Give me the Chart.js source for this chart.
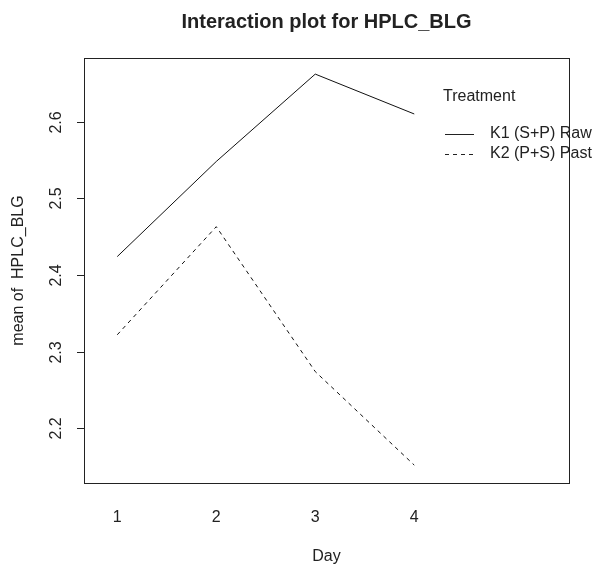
<!DOCTYPE html>
<html>
<head>
<meta charset="utf-8">
<script src="https://cdn.jsdelivr.net/npm/chart.js@4/dist/chart.umd.min.js"></script>
<style>
  html, body { margin: 0; padding: 0; background: #fff; }
  canvas { display: block; }
</style>
</head>
<body>
<canvas id="myChart" width="603" height="573"></canvas>
<script>
// interaction plot: mean HPLC_BLG by Day for each Treatment
const days = [1, 2, 3, 4];
const k1Raw = [2.424, 2.548, 2.662, 2.610];
const k2Past = [2.322, 2.463, 2.274, 2.152];
const seriesNames = ['K1 (S+P) Raw', 'K2 (P+S) Past'];
const yTicks = [2.2, 2.3, 2.4, 2.5, 2.6];
const xTicks = ['1', '2', '3', '4'];

const FONT = '"Liberation Sans", Arial, Helvetica, sans-serif';

function pts(vals) {
    return days.map((d, i) => ({ x: d, y: vals[i] }));
}

// draws the R-style frame, axes, titles and legend around the chart area
const rDecor = {
    id: 'rDecor',
    afterDraw(chart) {
        const ctx = chart.ctx;
        const a = chart.chartArea;
        const xs = chart.scales.x;
        const ys = chart.scales.y;
        ctx.save();
        ctx.fillStyle = '#222';
        ctx.strokeStyle = '#222';
        ctx.lineWidth = 1;

        // box
        ctx.strokeRect(Math.round(a.left) + 0.5, Math.round(a.top) + 0.5,
            Math.round(a.right - a.left), Math.round(a.bottom - a.top));

        // y ticks + rotated labels
        ctx.font = '16px ' + FONT;
        ctx.textAlign = 'center';
        ctx.textBaseline = 'middle';
        yTicks.forEach(v => {
            const y = Math.round(ys.getPixelForValue(v)) + 0.5;
            ctx.beginPath();
            ctx.moveTo(a.left - 7, y);
            ctx.lineTo(a.left, y);
            ctx.stroke();
            ctx.save();
            ctx.translate(57, y);
            ctx.rotate(-Math.PI / 2);
            ctx.fillText(v.toFixed(1), 0, 0);
            ctx.restore();
        });

        // x labels (no tick marks)
        xTicks.forEach((t, i) => {
            ctx.fillText(t, xs.getPixelForValue(days[i]), 518);
        });

        // axis titles
        ctx.fillText('Day', (a.left + a.right) / 2, 557);
        ctx.save();
        ctx.translate(19, (a.top + a.bottom) / 2);
        ctx.rotate(-Math.PI / 2);
        ctx.fillText('mean of  HPLC_BLG', 0, 0);
        ctx.restore();

        // main title
        ctx.font = 'bold 20px ' + FONT;
        ctx.fillText('Interaction plot for HPLC_BLG', (a.left + a.right) / 2, 22);

        // legend
        ctx.font = '16px ' + FONT;
        ctx.textAlign = 'left';
        ctx.fillText('Treatment', 443, 97);
        chart.data.datasets.forEach((ds, i) => {
            const y = 134 + i * 20;
            ctx.setLineDash(ds.borderDash || []);
            ctx.beginPath();
            ctx.moveTo(445, y + 0.5);
            ctx.lineTo(474, y + 0.5);
            ctx.stroke();
            ctx.setLineDash([]);
            ctx.fillText(ds.label, 490, y);
        });
        ctx.restore();
    }
};

const data = {
    datasets: [
        {
            label: seriesNames[0],
            data: pts(k1Raw),
            borderColor: '#111',
            borderWidth: 1,
            pointRadius: 0,
            tension: 0,
            fill: false
        },
        {
            label: seriesNames[1],
            data: pts(k2Past),
            borderColor: '#111',
            borderWidth: 1,
            borderDash: [4, 4],
            pointRadius: 0,
            tension: 0,
            fill: false
        }
    ]
};

const config = {
    type: 'line',
    data: data,
    options: {
        responsive: false,
        animation: false,
        devicePixelRatio: 1,
        layout: { padding: { left: 84, top: 58, right: 34, bottom: 90 } },
        plugins: {
            legend: { display: false },
            tooltip: { enabled: false },
            title: { display: false }
        },
        scales: {
            x: { type: 'linear', display: false, min: 0.664, max: 5.563 },
            y: { type: 'linear', display: false, min: 2.1287, max: 2.683 }
        }
    },
    plugins: [rDecor]
};

const myChart = new Chart(document.getElementById('myChart').getContext('2d'), config);
</script>
</body>
</html>
